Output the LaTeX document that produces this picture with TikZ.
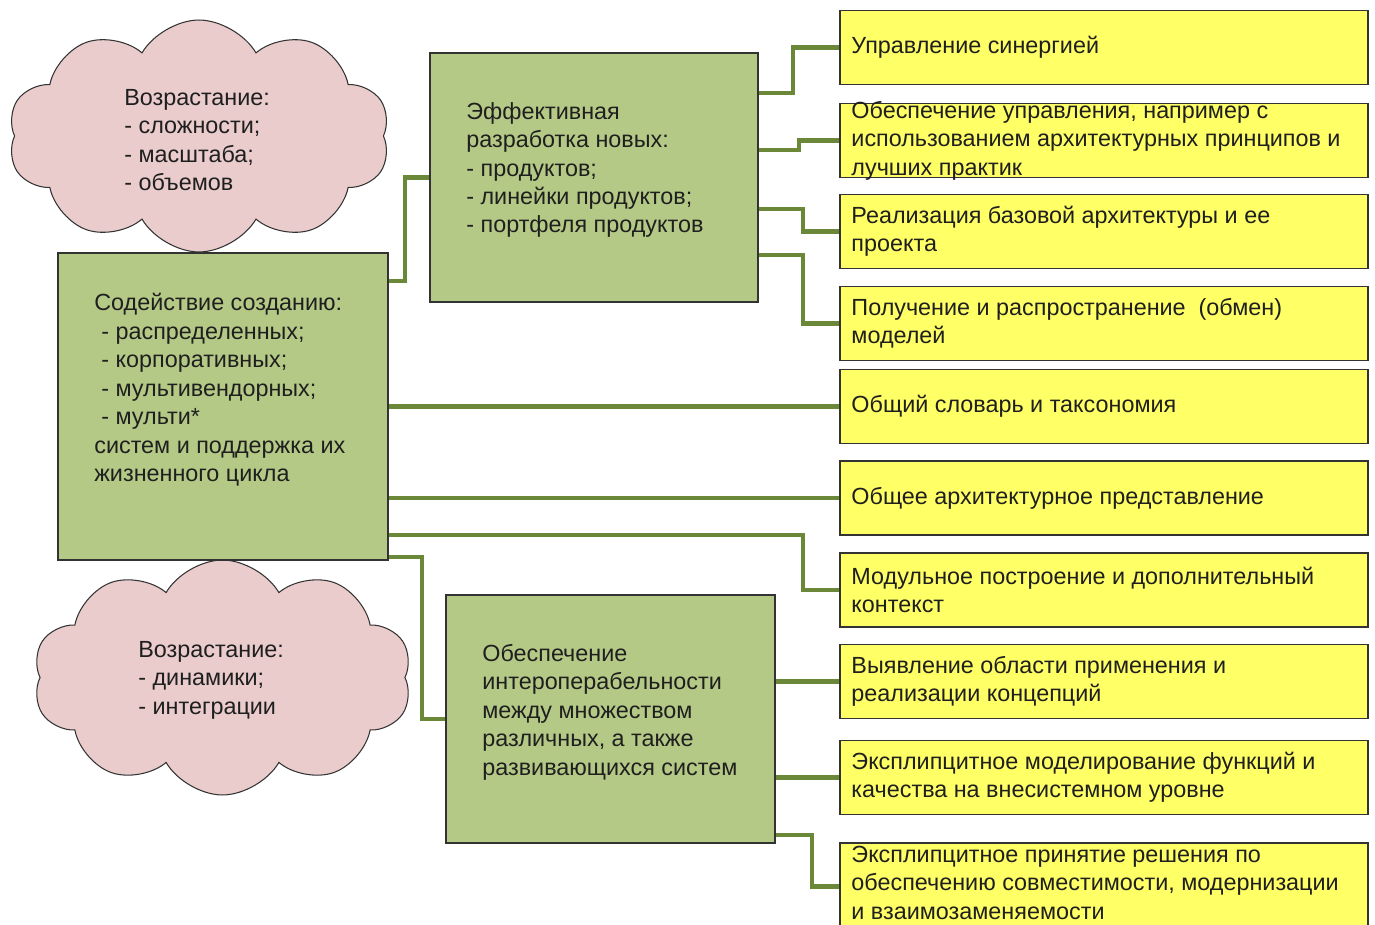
\documentclass[tikz,border=0pt]{standalone}
\usepackage{fontspec}
\setmainfont{Liberation Sans}
\usetikzlibrary{positioning}
\usetikzlibrary{shapes.symbols}
\definecolor{boxgreen}{RGB}{181,201,134}
\definecolor{boxyellow}{RGB}{255,255,102}
\definecolor{linkgreen}{RGB}{106,136,56}
\definecolor{cloudpink}{RGB}{234,204,204}

\tikzset{
  gbox/.style={draw=black!80, line width=1.1pt, fill=boxgreen},
  ybox/.style={draw=black!80, line width=1.1pt, fill=boxyellow, minimum width=10.56cm, minimum height=1.48cm},
  gtext/.style={align=left, anchor=west, inner sep=0pt},
  ytext/.style={align=left, anchor=west, inner sep=0pt},
  pcloud/.style={cloud, cloud puffs=10, cloud puff arc=120, cloud ignores aspect, draw=black!80, line width=0.6pt, fill=cloudpink},
  conn/.style={draw=linkgreen, line width=2.8pt}
}

\begin{document}
\begin{tikzpicture}[x=0.02cm, y=-0.02cm, font=\fontsize{13.3}{16.2}\selectfont, text=black!88]
  \clip (0,0) rectangle (1375,925);

  \node[pcloud, minimum width=7.64cm, minimum height=4.64cm] (cloudA) at (199,136) {};
  \node[pcloud, minimum width=7.58cm, minimum height=4.70cm] (cloudB) at (222.5,677.5) {};
  \node[gtext] (cloudAtxt) at (124,140) {Возрастание:\\- сложности;\\- масштаба;\\- объемов};
  \node[gtext] (cloudBtxt) at (138,680) {Возрастание:\\- динамики;\\- интеграции};

  \node[gbox, minimum width=6.60cm, minimum height=6.14cm] (main)  at (223,406.5) {};
  \node[gbox, minimum width=6.56cm, minimum height=4.98cm] (eff)   at (594,177.5) {};
  \node[gbox, minimum width=6.58cm, minimum height=4.96cm] (inter) at (610.5,719) {};

  \node[gtext] (maintxt) at (94,390) {Содействие созданию:\\\hspace{0.14cm}- распределенных;\\\hspace{0.14cm}- корпоративных;\\\hspace{0.14cm}- мультивендорных;\\\hspace{0.14cm}- мульти*\\систем и поддержка их\\жизненного цикла};
  \node[gtext] (efftxt) at (466,170) {Эффективная\\разработка новых:\\- продуктов;\\- линейки продуктов;\\- портфеля продуктов};
  \node[gtext] (intertxt) at (482,712) {Обеспечение\\интероперабельности\\между множеством\\различных, а также\\развивающихся систем};

  \node[ybox] (s1)  at (1104,47.5)  {};
  \node[ybox] (s2)  at (1104,140.5) {};
  \node[ybox] (s3)  at (1104,231.5) {};
  \node[ybox] (s4)  at (1104,323.5) {};
  \node[ybox] (s5)  at (1104,406.5) {};
  \node[ybox] (s6)  at (1104,498)   {};
  \node[ybox] (s7)  at (1104,590)   {};
  \node[ybox] (s8)  at (1104,681.5) {};
  \node[ybox] (s9)  at (1104,777.5) {};
  \node[ybox, minimum height=1.74cm] (s10) at (1104,886.5) {};

  \node[ytext, right=0.24cm of s1.west]  (s1txt)  {Управление синергией};
  \node[ytext, right=0.24cm of s2.west]  (s2txt)  {Обеспечение управления, например с\\использованием архитектурных принципов и\\лучших практик};
  \node[ytext, right=0.24cm of s3.west]  (s3txt)  {Реализация базовой архитектуры и ее\\проекта};
  \node[ytext, right=0.24cm of s4.west]  (s4txt)  {Получение и распространение~~(обмен)\\моделей};
  \node[ytext, right=0.24cm of s5.west]  (s5txt)  {Общий словарь и таксономия};
  \node[ytext, right=0.24cm of s6.west]  (s6txt)  {Общее архитектурное представление};
  \node[ytext, right=0.24cm of s7.west]  (s7txt)  {Модульное построение и дополнительный\\контекст};
  \node[ytext, right=0.24cm of s8.west]  (s8txt)  {Выявление области применения и\\реализации концепций};
  \node[ytext, right=0.24cm of s9.west]  (s9txt)  {Эксплипцитное моделирование функций и\\качества на внесистемном уровне};
  \node[ytext, right=0.24cm of s10.west, yshift=0.08cm] (s10txt) {Эксплипцитное принятие решения по\\обеспечению совместимости, модернизации\\и взаимозаменяемости};

  \draw[conn] (main.east |- 0,281) -| (405,177.5) -- (eff.west);
  \draw[conn] (eff.east |- 0,93)   -| (793,47.5)  -- (s1.west);
  \draw[conn] (eff.east |- 0,150)  -| (799,140.5) -- (s2.west);
  \draw[conn] (eff.east |- 0,209)  -| (803,231.5) -- (s3.west);
  \draw[conn] (eff.east |- 0,255)  -| (803,323.5) -- (s4.west);
  \draw[conn] (main.east |- s5.west) -- (s5.west);
  \draw[conn] (main.east |- s6.west) -- (s6.west);
  \draw[conn] (main.east |- 0,535) -| (803,590)   -- (s7.west);
  \draw[conn] (main.east |- 0,557) -| (422,719)   -- (inter.west);
  \draw[conn] (inter.east |- s8.west) -- (s8.west);
  \draw[conn] (inter.east |- s9.west) -- (s9.west);
  \draw[conn] (inter.east |- 0,835) -| (812,886.5) -- (s10.west);
\end{tikzpicture}
\end{document}
